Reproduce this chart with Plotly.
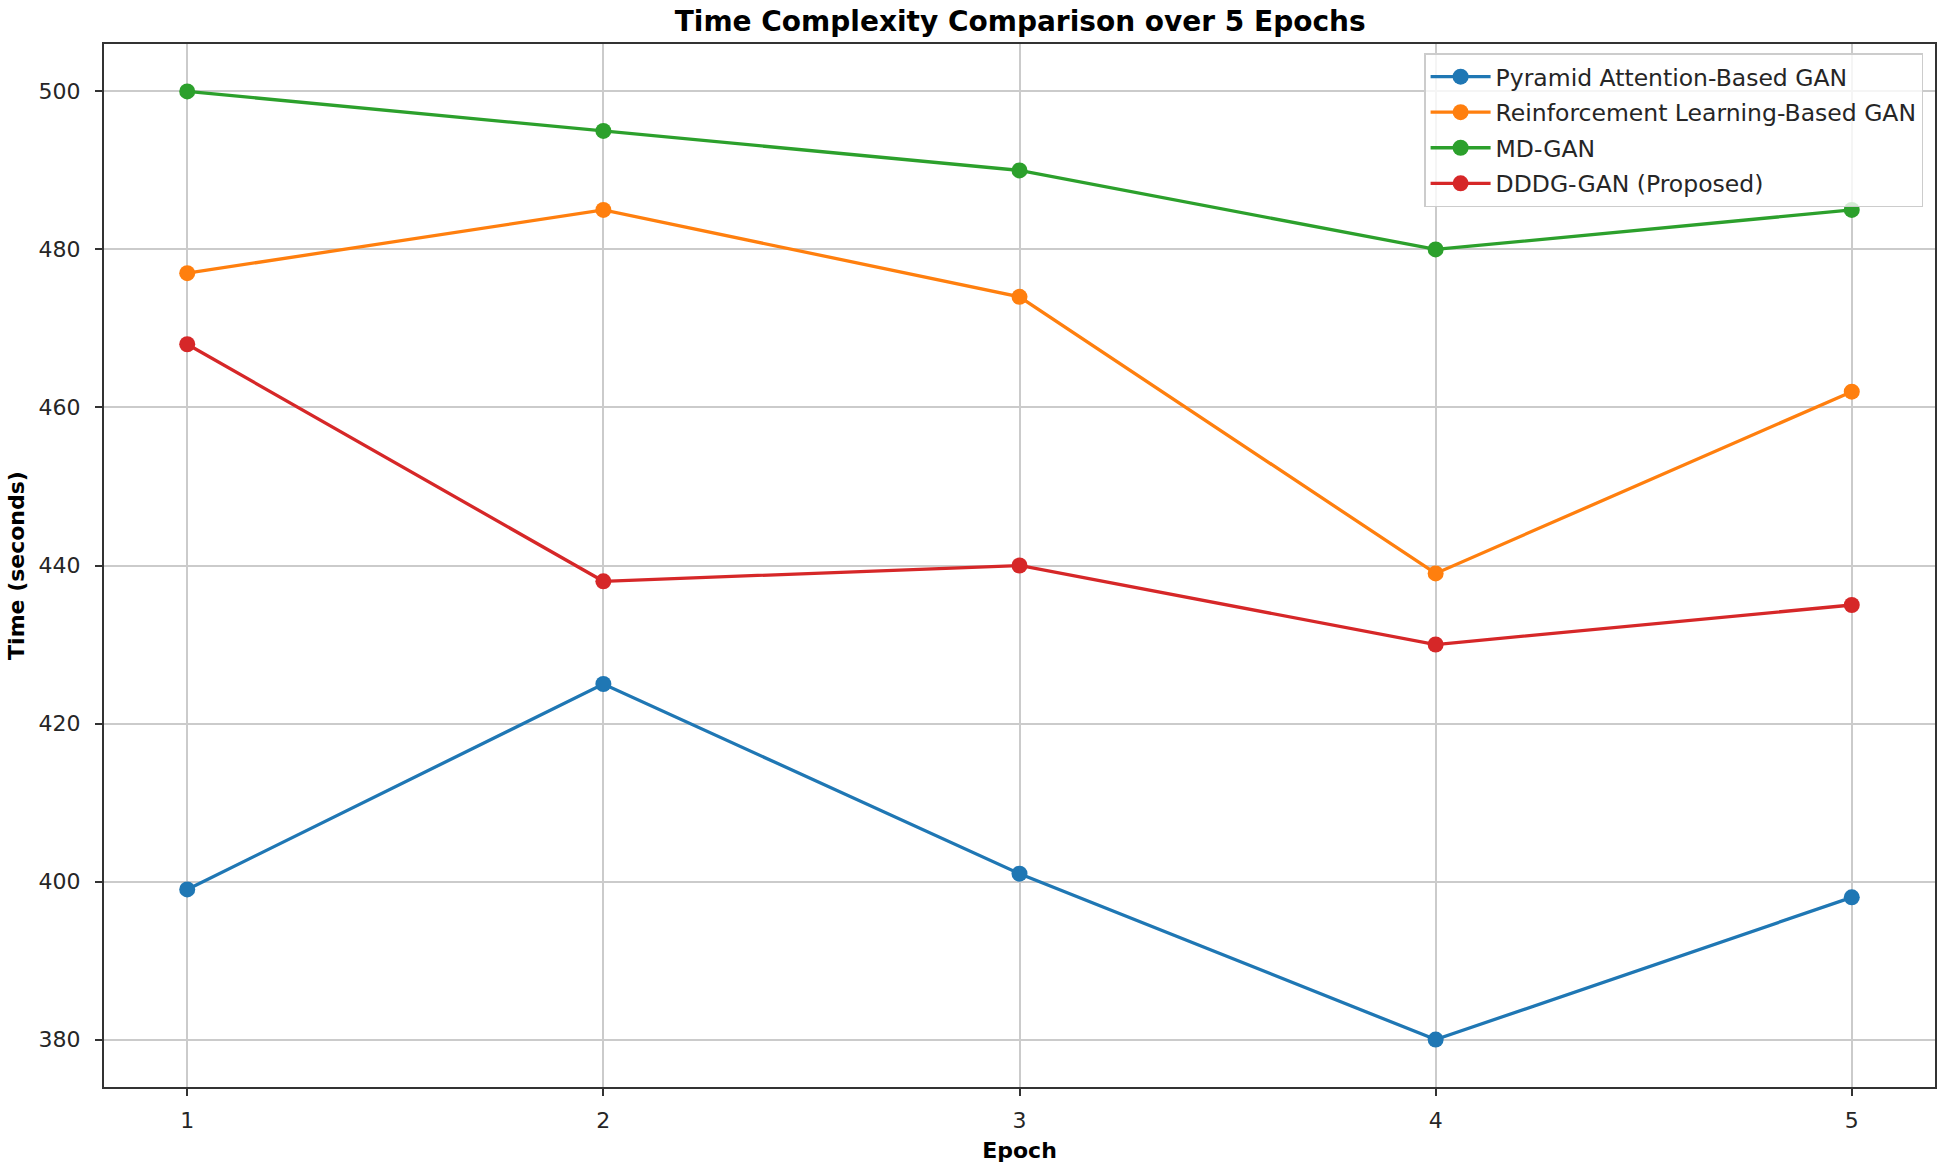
import plotly.graph_objects as go

epochs = [1, 2, 3, 4, 5]
pyramid = [399, 425, 401, 380, 398]
reinforcement = [477, 485, 474, 439, 462]
mdgan = [500, 495, 490, 480, 485]
dddg = [468, 438, 440, 430, 435]

series = [
    ("Pyramid Attention-Based GAN", pyramid, "#1f77b4"),
    ("Reinforcement Learning-Based GAN", reinforcement, "#ff7f0e"),
    ("MD-GAN", mdgan, "#2ca02c"),
    ("DDDG-GAN (Proposed)", dddg, "#d62728"),
]

x_ticks = [1, 2, 3, 4, 5]
y_ticks = [380, 400, 420, 440, 460, 480, 500]

FONT = "DejaVu Sans"

fig = go.Figure()
for i, (name, vals, color) in enumerate(series):
    fig.add_trace(go.Scatter(
        x=epochs, y=vals, name=name, mode="lines+markers",
        legendgroup=f"g{i}",
        line=dict(color=color, width=3.3),
        marker=dict(color=color, size=16),
    ))

fig.update_layout(
    width=1944, height=1167,
    margin=dict(l=104, r=7, t=44, b=80),
    paper_bgcolor="white", plot_bgcolor="white",
    font=dict(family=FONT, size=22, color="#262626"),
    title=dict(
        text="<b>Time Complexity Comparison over 5 Epochs</b>",
        font=dict(family=FONT, size=28, color="black"),
        x=0.5248, xanchor="center", y=1 - 21/1167, yanchor="middle",
    ),
    legend=dict(
        x=0.9935, xanchor="right", y=0.991, yanchor="top",
        bgcolor="rgba(255,255,255,0.8)", bordercolor="#cccccc", borderwidth=1.5,
        font=dict(family=FONT, size=23.5, color="#262626"),
        tracegroupgap=2, itemwidth=60,
    ),
    showlegend=True,
)

fig.update_xaxes(
    range=[0.8, 5.2], tickvals=x_ticks, ticktext=[str(v) for v in x_ticks],
    showgrid=True, gridcolor="#cbcbcb", gridwidth=2,
    showline=True, linecolor="#333333", linewidth=2, mirror=True,
    ticks="outside", ticklen=7, tickwidth=2, tickcolor="#333333",
    ticklabelstandoff=6, zeroline=False,
    title=dict(text="<b>Epoch</b>", font=dict(family=FONT, size=22, color="black"), standoff=10),
)
fig.update_yaxes(
    range=[374, 506], tickvals=y_ticks, ticktext=[str(v) for v in y_ticks],
    showgrid=True, gridcolor="#cbcbcb", gridwidth=2,
    showline=True, linecolor="#333333", linewidth=2, mirror=True,
    ticks="outside", ticklen=7, tickwidth=2, tickcolor="#333333",
    ticklabelstandoff=10, zeroline=False,
    title=dict(text="<b>Time (seconds)</b>", font=dict(family=FONT, size=22, color="black"), standoff=8),
)

fig.write_html("out.html", config={"displayModeBar": False},
               post_script="document.body.style.margin='0';")
